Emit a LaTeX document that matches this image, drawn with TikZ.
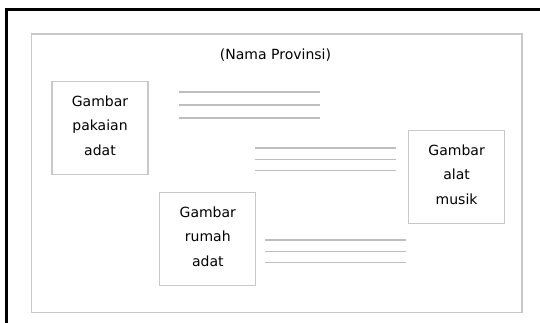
\documentclass[tikz,border=0pt]{standalone}
\usepackage{fontspec}
\setmainfont{DejaVu Sans}
\usetikzlibrary{positioning}
\definecolor{framegrey}{RGB}{200,200,200}
\definecolor{linegrey}{RGB}{190,190,190}
\tikzset{x=1pt,y=-1pt,
  picbox/.style={draw=framegrey,line width=1.2pt,minimum width=96pt,minimum height=93pt,
    align=center,font=\fontsize{14}{24.3}\selectfont,inner sep=0pt,text depth=5pt},
  textline/.style={draw=linegrey,line width=1.1pt}}

\begin{document}
\begin{tikzpicture}
\useasboundingbox (0,0) rectangle (540,322);
\draw[line width=2.8pt] (6.5,323) |- (541,9.5);
\draw[framegrey,line width=1.2pt] (31.7,34) rectangle (522,312.7);
\node[font=\fontsize{14}{17}\selectfont] (prov) at (275.5,55) {(Nama Provinsi)};
\node[picbox] (pakaian) at (100,128) {Gambar\\pakaian\\adat};
\node[picbox] (musik) at (456.6,177) {Gambar\\alat\\musik};
\node[picbox] (rumah) at (207.8,239) {Gambar\\rumah\\adat};
% baris teks
\foreach \y in {92,105,118} \draw[textline] (179,\y) -- (320,\y);
\foreach \y in {148,159.4,170.8} \draw[textline] (255,\y) -- (396,\y);
\foreach \y in {240,251.4,262.7} \draw[textline] (264.5,\y) -- (405.5,\y);
\end{tikzpicture}
\end{document}
